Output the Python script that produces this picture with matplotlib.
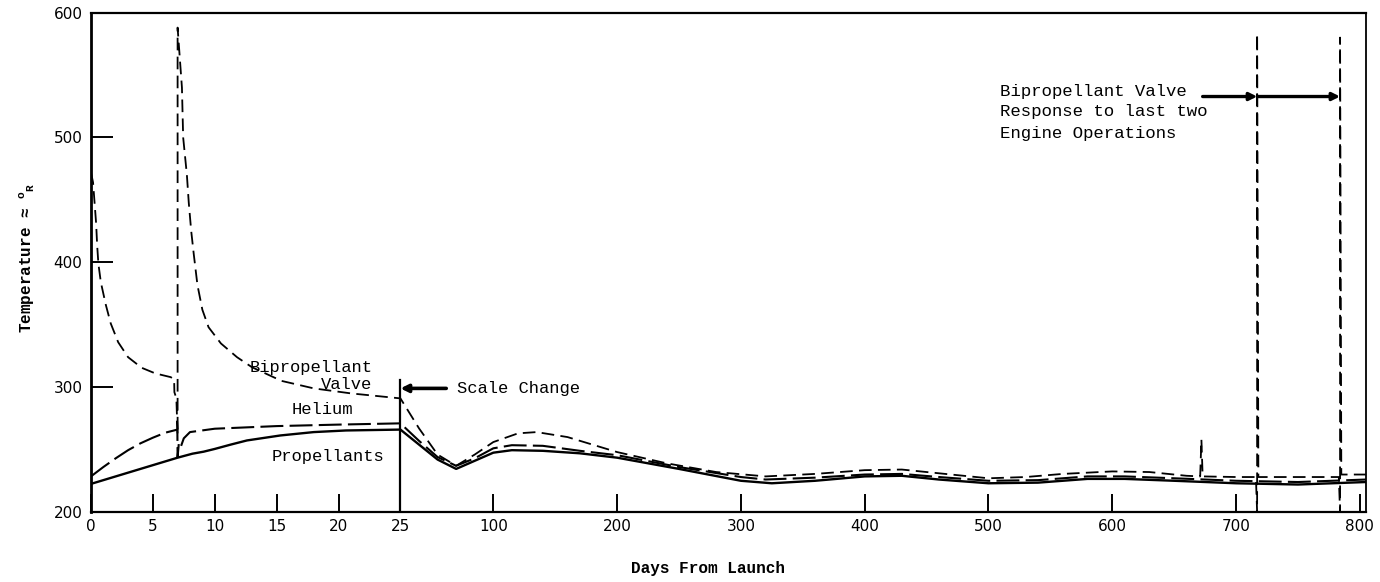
import numpy as np
import matplotlib
matplotlib.use("Agg")
import matplotlib.pyplot as plt

# ---- data: days from launch vs. temperature (deg R) ----
valve_days = [0, 0.17, 0.42, 0.5, 0.6, 0.8, 1.2, 1.6, 2.2, 3.0, 4.1, 5.2, 6.45,
              6.72, 6.74, 6.9, 7.0, 7.0, 7.35, 7.45, 7.75, 7.9, 8.1, 8.3, 8.6,
              9.0, 9.5, 10.5, 11.8, 13.0, 15.4, 18.0, 21.0, 25.0,
              40, 55, 70, 85, 100, 120, 135, 160, 200, 240, 280, 320, 360, 400,
              430, 460, 500, 530, 560, 600, 630, 660, 671, 672, 673, 700,
              716, 717, 717, 718, 750, 783, 784, 784, 785, 805]
valve_temp = [472, 464, 431, 414, 399, 384, 366, 351, 336, 324, 315.5, 311, 308,
              306, 296, 291, 262, 588, 540, 500, 470, 448, 425, 407, 382,
              362, 348, 335, 324, 316, 305, 299, 295, 291,
              267, 246, 237, 246, 256, 263, 264, 260, 248, 239, 232, 228.5, 230.5, 233.5,
              234, 231, 227, 228, 230.5, 232.5, 232, 229, 228.5, 258, 228.5, 228,
              228, 200, 583, 228, 228, 228, 200, 580, 230, 230]

helium_days = [0, 1.0, 2.0, 3.0, 4.0, 5.0, 6.0, 6.98, 7.0, 7.1, 7.25, 7.5, 8.0,
               10, 15, 20, 25, 40, 55, 70, 85, 100, 115, 140, 170, 200, 250,
               300, 320, 360, 400, 430, 460, 500, 540, 580, 610, 650, 700, 750, 805]
helium_temp = [228.5, 236, 243, 249.5, 255, 259.5, 263.5, 266, 244, 255, 252, 259, 264,
               266.7, 268.8, 270, 271, 257, 244, 237, 243, 251, 253.5, 253, 249, 245.5, 236,
               228, 226, 227.5, 230, 230.5, 228, 225, 225.5, 228.5, 228.5, 227, 225, 224, 226]

prop_days = [0, 7.0, 8.2, 9.1, 10, 11.3, 12.6, 15.3, 18, 20.6, 25,
             40, 55, 70, 85, 100, 115, 140, 170, 200, 250, 300, 325, 360, 400,
             430, 460, 500, 540, 580, 610, 650, 700, 750, 805]
prop_temp = [222.5, 243.5, 246.7, 248.3, 250.5, 254, 257.3, 261.3, 264, 265.3, 266,
             254, 242, 234.5, 241, 247.5, 249.5, 249, 247, 243.5, 234.5, 225, 223, 225, 228.5,
             229, 226, 223, 223.5, 226.5, 226.5, 225, 223, 222, 224]

x_ticks = [0, 5, 10, 15, 20, 25, 100, 200, 300, 400, 500, 600, 700, 800]
x_labels = [str(t) for t in x_ticks]
y_ticks = [200, 300, 400, 500, 600]

# ---- broken time axis: 1 day per unit up to day 25, then 10 days per unit ----
BREAK = 25.0
COMPRESS = 10.0


def fwd(x):
    x = np.asarray(x, dtype=float)
    return np.where(x <= BREAK, x, BREAK + (x - BREAK) / COMPRESS)


def inv(u):
    u = np.asarray(u, dtype=float)
    return np.where(u <= BREAK, u, BREAK + (u - BREAK) * COMPRESS)


MONO = ["Liberation Mono", "DejaVu Sans Mono"]
plt.rcParams["mathtext.fontset"] = "custom"
plt.rcParams["mathtext.rm"] = "Liberation Mono:bold"

fig = plt.figure(figsize=(13.8, 5.82), dpi=100)
ax = fig.add_axes([0.0659, 0.1203, 0.924, 0.858])
ax.set_xscale("function", functions=(fwd, inv))
ax.set_xlim(0, 805)
ax.set_ylim(200, 600)

ax.plot(valve_days, valve_temp, color="black", lw=1.3, linestyle=(0, (7, 3.5)))
ax.plot(helium_days, helium_temp, color="black", lw=1.5, linestyle=(0, (11, 3)))
ax.plot(prop_days, prop_temp, color="black", lw=1.7, solid_joinstyle="round")

# scale-change marker line
ax.plot([BREAK, BREAK], [200, 306], color="black", lw=1.6)

# axes frame and ticks
for side in ["left", "bottom", "top", "right"]:
    ax.spines[side].set_color("black")
ax.spines["left"].set_linewidth(2.0)
ax.spines["bottom"].set_linewidth(1.6)
ax.spines["top"].set_linewidth(1.6)
ax.spines["right"].set_linewidth(1.3)

ax.set_xticks(x_ticks)
ax.set_xticklabels(x_labels)
ax.xaxis.set_minor_locator(matplotlib.ticker.NullLocator())
ax.set_yticks(y_ticks)
ax.tick_params(axis="x", direction="in", length=13, width=1.4, pad=5,
               labelsize=11, colors="black")
ax.tick_params(axis="y", direction="in", length=16, width=1.4, pad=6,
               labelsize=11, colors="black")

# curve labels
lab = dict(fontsize=12.3, family=MONO, color="black", va="center")
ax.text(12.8, 315.4, "Bipropellant", ha="left", **lab)
ax.text(22.7, 302.5, "Valve", ha="right", **lab)
ax.text(16.2, 282, "Helium", ha="left", **lab)
ax.text(14.6, 244.8, "Propellants", ha="left", **lab)

# scale change callout
ax.annotate("", xy=(BREAK, 299), xytext=(62, 299),
            arrowprops=dict(arrowstyle="-|>", lw=2.6, color="black",
                            mutation_scale=11, shrinkA=0, shrinkB=0))
ax.text(70.3, 299.2, "Scale Change", ha="left", **lab)

# engine operation callout
note = dict(fontsize=12.5, family=MONO, color="black", va="center", ha="left")
ax.text(509, 536.8, "Bipropellant Valve", **note)
ax.text(509, 520.8, "Response to last two", **note)
ax.text(509, 503.4, "Engine Operations", **note)
arrow = dict(arrowstyle="-|>", lw=2.4, color="black", mutation_scale=11,
             shrinkA=0, shrinkB=0)
ax.annotate("", xy=(717, 532.8), xytext=(673, 532.8), arrowprops=arrow)
ax.annotate("", xy=(784, 532.8), xytext=(717, 532.8), arrowprops=arrow)

# axis titles
fig.text(708 / 1380, 1 - 568 / 582, "Days From Launch", ha="center", va="center",
         fontsize=11.5, family=MONO, fontweight="bold")
fig.text(27 / 1380, 1 - 258 / 582,
         "Temperature \u2248 $^{\\mathrm{o}}$$_{\\mathrm{R}}$",
         rotation=90, ha="center", va="center", fontsize=11.5,
         family=MONO, fontweight="bold")

fig.savefig("out.png", dpi=100, facecolor="white")
